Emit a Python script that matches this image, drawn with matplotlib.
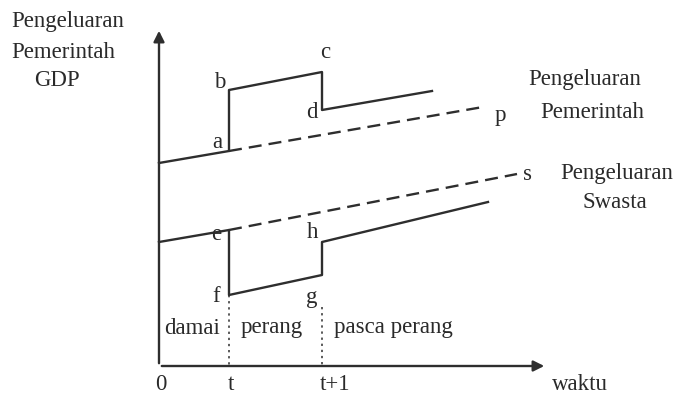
import matplotlib
matplotlib.use("Agg")
import matplotlib.pyplot as plt

# titik-titik kurva (sumbu x = waktu, sumbu y = pengeluaran)
t0, t1 = 70, 163          # posisi waktu t dan t+1
x_end_axis, y_end_axis = 388, 338

# pengeluaran pemerintah
gov_x = [0, t0, t0, t1, t1, 273]
gov_y = [203, 215, 276, 294, 256, 275]
gov_trend_x = [t0, 324]
gov_trend_y = [215, 259]

# pengeluaran swasta
swa_x = [0, t0, t0, t1, t1, 329]
swa_y = [124, 136, 71, 91, 124, 164]
swa_trend_x = [t0, 358]
swa_trend_y = [136, 192]

# label titik
point_labels = ["a", "b", "c", "d", "p", "e", "f", "g", "h", "s"]
point_x = [58, 61, 166, 153, 341, 57, 57, 153, 154, 369]
point_y = [224, 284, 314, 254, 251, 131, 69, 68, 133, 191]

fase = ["damai", "perang", "pasca perang"]
fase_x = [33, 113, 234]
tick_labels = ["0", "t", "t+1"]
tick_x = [2, 72, 176]

col = "#2e2e2e"
txtcol = "#2a2a2a"
plt.rcParams["font.family"] = ["Liberation Serif", "DejaVu Serif"]
fs = 16.5

fig = plt.figure(figsize=(6.8, 3.97), dpi=100)
ax = fig.add_axes([0, 0, 1, 1])
ax.set_xlim(-159, 680 - 159)
ax.set_ylim(-31, 366)
ax.axis("off")

# sumbu
ax.annotate("", xy=(0, y_end_axis), xytext=(0, 0),
            arrowprops=dict(arrowstyle="-|>", lw=1.7, color=col, mutation_scale=16))
ax.annotate("", xy=(x_end_axis, 0), xytext=(0, 0),
            arrowprops=dict(arrowstyle="-|>", lw=1.7, color=col, mutation_scale=16))

ax.plot(gov_x, gov_y, color=col, lw=1.7)
ax.plot(gov_trend_x, gov_trend_y, color=col, lw=1.7, linestyle=(0, (5.5, 3)))
ax.plot(swa_x, swa_y, color=col, lw=1.7)
ax.plot(swa_trend_x, swa_trend_y, color=col, lw=1.7, linestyle=(0, (5.5, 3)))

# garis putus-putus vertikal
ax.plot([t0, t0], [swa_y[2], 0], color=col, lw=1.1, linestyle=(0, (1.5, 2.5)))
ax.plot([t1, t1], [59, 0], color=col, lw=1.1, linestyle=(0, (1.5, 2.5)))

for lab, x, y in zip(point_labels, point_x, point_y):
    ax.text(x, y, lab, fontsize=fs, color=txtcol, ha="center", va="center")

for lab, x in zip(fase, fase_x):
    ax.text(x, 38, lab, fontsize=fs, color=txtcol, ha="center", va="center")

for lab, x in zip(tick_labels, tick_x):
    ax.text(x, -19, lab, fontsize=fs, color=txtcol, ha="center", va="center")
ax.text(421, -19, "waktu", fontsize=fs, color=txtcol, ha="center", va="center")

# judul sumbu y
ax.text(-91, 344, "Pengeluaran", fontsize=fs, color=txtcol, ha="center", va="center")
ax.text(-96, 314, "Pemerintah", fontsize=fs, color=txtcol, ha="center", va="center")
ax.text(-102, 286, "GDP", fontsize=fs, color=txtcol, ha="center", va="center")

# keterangan kurva
ax.text(426, 286, "Pengeluaran", fontsize=fs, color=txtcol, ha="center", va="center")
ax.text(433, 254, "Pemerintah", fontsize=fs, color=txtcol, ha="center", va="center")
ax.text(458, 193, "Pengeluaran", fontsize=fs, color=txtcol, ha="center", va="center")
ax.text(456, 163, "Swasta", fontsize=fs, color=txtcol, ha="center", va="center")

fig.savefig("out.png", dpi=100, facecolor="white")
